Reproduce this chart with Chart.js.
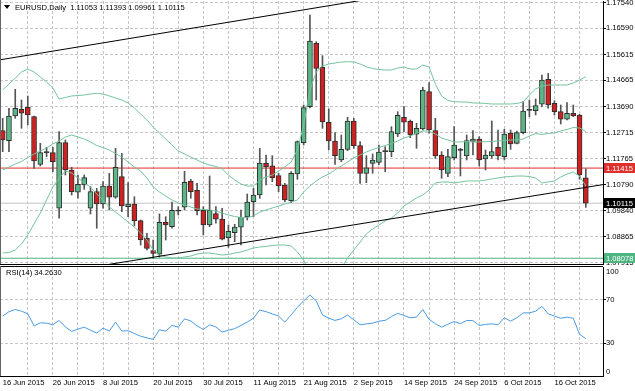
<!DOCTYPE html>
<html><head><meta charset="utf-8">
<script src="https://cdn.jsdelivr.net/npm/chart.js@4/dist/chart.umd.min.js"></script>
<style>
html,body{margin:0;padding:0;background:#fff;}
#wrap{position:relative;width:635px;height:391px;overflow:hidden;background:#fff;}
.pane{position:absolute;left:0;}
</style></head><body>
<div id="wrap">
<div class="pane" style="top:0;width:635px;height:266px"><canvas id="main" width="635" height="266"></canvas></div>
<div class="pane" style="top:266px;width:635px;height:125px"><canvas id="rsi" width="635" height="125"></canvas></div>
</div>
<script>
// ---------------- data ----------------
const symbol = 'EURUSD,Daily';
const dates = ['16 Jun 2015','17 Jun 2015','18 Jun 2015','19 Jun 2015','22 Jun 2015','23 Jun 2015','24 Jun 2015','25 Jun 2015','26 Jun 2015','29 Jun 2015','30 Jun 2015',
'1 Jul 2015','2 Jul 2015','3 Jul 2015','6 Jul 2015','7 Jul 2015','8 Jul 2015','9 Jul 2015','10 Jul 2015','13 Jul 2015','14 Jul 2015','15 Jul 2015','16 Jul 2015','17 Jul 2015','20 Jul 2015','21 Jul 2015','22 Jul 2015','23 Jul 2015','24 Jul 2015','27 Jul 2015','28 Jul 2015','29 Jul 2015','30 Jul 2015','31 Jul 2015',
'3 Aug 2015','4 Aug 2015','5 Aug 2015','6 Aug 2015','7 Aug 2015','10 Aug 2015','11 Aug 2015','12 Aug 2015','13 Aug 2015','14 Aug 2015','17 Aug 2015','18 Aug 2015','19 Aug 2015','20 Aug 2015','21 Aug 2015','24 Aug 2015','25 Aug 2015','26 Aug 2015','27 Aug 2015','28 Aug 2015','31 Aug 2015',
'1 Sep 2015','2 Sep 2015','3 Sep 2015','4 Sep 2015','7 Sep 2015','8 Sep 2015','9 Sep 2015','10 Sep 2015','11 Sep 2015','14 Sep 2015','15 Sep 2015','16 Sep 2015','17 Sep 2015','18 Sep 2015','21 Sep 2015','22 Sep 2015','23 Sep 2015','24 Sep 2015','25 Sep 2015','28 Sep 2015','29 Sep 2015','30 Sep 2015',
'1 Oct 2015','2 Oct 2015','5 Oct 2015','6 Oct 2015','7 Oct 2015','8 Oct 2015','9 Oct 2015','12 Oct 2015','13 Oct 2015','14 Oct 2015','15 Oct 2015','16 Oct 2015','19 Oct 2015','20 Oct 2015','21 Oct 2015','22 Oct 2015','23 Oct 2015'];

const open = [1.12799,1.12429,1.13343,1.13591,1.13665,1.13317,1.11555,1.11985,1.11985,1.09927,
1.12355,1.11344,1.10519,1.10789,1.09927,1.10541,1.10086,1.10752,1.10334,1.11096,
1.09986,1.10086,1.09468,1.08817,1.08358,1.0823,1.09409,1.09246,1.0983,1.09964,
1.10937,1.10593,1.09853,1.09309,1.09727,1.09531,1.08839,1.09024,1.09224,1.09605,
1.10171,1.10419,1.11592,1.11503,1.11133,1.10789,1.10208,1.11196,1.12355,1.13687,
1.16033,1.15145,1.1311,1.12418,1.11714,1.1211,1.13158,1.12244,1.11222,1.11592,
1.11629,1.12022,1.12022,1.12677,1.13295,1.13147,1.12666,1.12862,1.14242,1.12799,
1.11899,1.11222,1.11799,1.12096,1.11862,1.12406,1.12492,1.11751,1.11862,1.12184,
1.11837,1.12703,1.12332,1.12725,1.1355,1.13539,1.13776,1.14701,1.13813,1.13502,
1.13221,1.13443,1.1338,1.11053];
const high = [1.13258,1.13628,1.14331,1.13935,1.14083,1.1334,1.12332,1.12184,1.12184,1.12762,
1.12455,1.11444,1.11159,1.11159,1.10726,1.10667,1.10911,1.11222,1.12147,1.11962,
1.10874,1.10356,1.09494,1.09002,1.08754,1.0972,1.09616,1.1016,1.09986,1.11296,
1.11,1.10852,1.09986,1.11122,1.09986,1.09927,1.09309,1.09335,1.09864,1.10456,
1.10667,1.12147,1.11899,1.11874,1.11222,1.10852,1.11281,1.12418,1.1375,1.17081,
1.16093,1.15575,1.13602,1.12725,1.1264,1.13295,1.13258,1.12392,1.11874,1.11937,
1.1227,1.12207,1.12947,1.13502,1.13687,1.13195,1.13073,1.14405,1.14575,1.13258,
1.12022,1.12111,1.12947,1.12147,1.1264,1.12799,1.12577,1.12084,1.13158,1.12825,
1.12851,1.12825,1.12788,1.13872,1.13935,1.13972,1.1486,1.14923,1.13909,1.1375,
1.13835,1.1375,1.13406,1.11393];
const low = [1.12022,1.12022,1.13258,1.12888,1.1301,1.11407,1.11492,1.11837,1.11281,1.09557,
1.11159,1.10419,1.10297,1.1063,1.09716,1.09187,1.09927,1.09864,1.10297,1.09801,
1.09616,1.09272,1.08569,1.08383,1.08078,1.0812,1.08754,1.09187,1.09679,1.09864,
1.10297,1.09679,1.08939,1.09246,1.09372,1.08754,1.08483,1.08691,1.08569,1.09494,
1.09616,1.10297,1.10789,1.10911,1.10541,1.10171,1.10134,1.11,1.1227,1.13639,
1.13935,1.12888,1.12084,1.11555,1.11651,1.12059,1.12147,1.10852,1.10874,1.11222,
1.11529,1.11281,1.11837,1.12577,1.12762,1.1254,1.12147,1.12825,1.12703,1.11777,
1.11037,1.11096,1.11714,1.11122,1.11714,1.11899,1.11492,1.11344,1.11777,1.11714,
1.11714,1.1211,1.1231,1.12677,1.13317,1.1338,1.13687,1.13628,1.1338,1.13047,
1.13195,1.13317,1.11,1.09961];
const close = [1.12455,1.13343,1.13628,1.13443,1.1338,1.11677,1.11985,1.1201,1.11651,1.12355,
1.11344,1.10541,1.10815,1.11059,1.10541,1.10086,1.10752,1.10334,1.11444,1.10012,
1.10086,1.09468,1.08754,1.08446,1.08261,1.09409,1.09309,1.09853,1.0982,1.10889,
1.10541,1.09838,1.09309,1.09853,1.0952,1.0878,1.09076,1.09235,1.09594,1.1016,
1.10419,1.11603,1.11466,1.11059,1.10752,1.10234,1.11222,1.12392,1.1365,1.16119,
1.15108,1.13121,1.12418,1.11874,1.1211,1.13158,1.12244,1.11222,1.11429,1.11714,
1.1201,1.1203,1.12762,1.13369,1.1311,1.1264,1.12888,1.14305,1.12825,1.11862,
1.11344,1.11837,1.1227,1.12073,1.12429,1.12492,1.11714,1.11899,1.12022,1.11862,
1.12677,1.12307,1.12725,1.13528,1.1357,1.13724,1.14675,1.1375,1.13502,1.13221,
1.13443,1.13343,1.11159,1.10115];

const bbUpper = [1.14305,1.14527,1.14749,1.14971,1.15082,1.14971,1.14786,1.14601,1.14379,1.13972,
1.14028,1.14083,1.14102,1.1412,1.14157,1.14183,1.14157,1.14083,1.14009,1.13935,
1.13824,1.13639,1.13417,1.13195,1.12936,1.12714,1.12492,1.1227,1.12047,1.11937,
1.11825,1.11714,1.11603,1.11529,1.11474,1.11381,1.11159,1.10974,1.10826,1.10752,
1.10752,1.10974,1.11085,1.11159,1.11307,1.11455,1.1164,1.12084,1.1301,1.14305,
1.14971,1.15193,1.15267,1.15304,1.15341,1.15352,1.15341,1.15267,1.15167,1.15101,
1.15064,1.15045,1.15045,1.15119,1.15156,1.15082,1.15082,1.1523,1.15156,1.14527,
1.14083,1.13917,1.13872,1.13861,1.13861,1.13824,1.13824,1.13806,1.13787,1.13787,
1.13787,1.13787,1.13806,1.13861,1.1412,1.14342,1.14453,1.1449,1.1449,1.1449,
1.1449,1.14564,1.14675,1.14797];
const bbMiddle = [1.11344,1.11455,1.11566,1.11659,1.11807,1.11937,1.12047,1.12159,1.12307,1.12418,
1.12566,1.1264,1.12566,1.12492,1.12381,1.12251,1.12177,1.12084,1.11955,1.11825,
1.1164,1.11455,1.11307,1.11048,1.10715,1.1053,1.10382,1.10234,1.10123,1.10049,
1.09975,1.09901,1.09882,1.09864,1.09827,1.09753,1.09679,1.09623,1.09586,1.09586,
1.09642,1.0979,1.09864,1.09938,1.10012,1.10086,1.1016,1.10234,1.1053,1.10752,
1.10937,1.11085,1.11196,1.11344,1.11492,1.1164,1.11788,1.11899,1.1201,1.12103,
1.12177,1.12251,1.12325,1.12418,1.12529,1.12603,1.12714,1.12788,1.12788,1.12677,
1.12529,1.12455,1.12381,1.12381,1.12399,1.12381,1.12381,1.12392,1.12399,1.12418,
1.12436,1.12455,1.12455,1.12492,1.12603,1.12695,1.12658,1.12695,1.12714,1.12788,
1.12843,1.12917,1.12899,1.12769];
const bbLower = [1.08272,1.08291,1.08383,1.08606,1.08939,1.09346,1.09753,1.10234,1.10715,1.11048,
1.11307,1.11233,1.11048,1.10863,1.10715,1.10456,1.10234,1.09975,1.0979,1.09605,
1.0942,1.09235,1.09013,1.08754,1.08383,1.08198,1.08124,1.08087,1.08087,1.08124,
1.08161,1.08235,1.08272,1.08272,1.08235,1.08198,1.08217,1.08272,1.08309,1.08383,
1.08458,1.08495,1.08513,1.08551,1.08569,1.08569,1.08532,1.08309,1.08013,1.07458,
1.07088,1.06903,1.06977,1.07199,1.07717,1.08087,1.08383,1.0868,1.08976,1.09161,
1.09309,1.09457,1.09568,1.09753,1.10012,1.1016,1.10308,1.10419,1.10604,1.10863,
1.109,1.109,1.10863,1.109,1.10937,1.10937,1.10937,1.10974,1.11011,1.11048,
1.11085,1.11104,1.11122,1.11122,1.11104,1.11048,1.10863,1.109,1.10937,1.11085,
1.11196,1.1127,1.11122,1.10752];

const rsi = [55,59,61,59.5,57,46,48.8,48.5,47,51,
45,40.9,43,44.8,42,39.4,43.9,41.2,49.4,41.2,
41.5,39,36.5,35,33.6,42.4,41.2,46.4,44.8,52.4,
50.5,46,42.7,47,45,40.3,42,43.4,46.4,49.5,
53,60.6,59,57,55,49.4,56,63,69,74.3,
69,56,53,51,52.5,56,51.5,47,47.8,48.5,
50.3,51,54.5,57.5,55.5,53.4,54,61,52,48,
44.8,47.5,50,48,51,50.8,46.4,47.3,47.9,47,
53.4,50.3,53.4,57.9,57.9,59.5,63.9,57,55,53,
54,53,38.2,34.263];

const priceTicks = [1.07915,1.08865,1.0984,1.1079,1.11765,1.12715,1.1369,1.14665,1.15615,1.1659,1.1754];
const rsiLevels = [30, 70];
const rsiBounds = [0, 100];
const levelValues = [1.11415, 1.10115, 1.08078];      // red level, current bid, green level
const trendUpper = [[-1, 1.1540], [60, 1.1773]];       // [bar, price]
const trendLower = [[10, 1.0759], [97, 1.1085]];

// ---------------- styling ----------------
const FONT = "'Liberation Sans',Arial,sans-serif";
const FS = 7.6;
const gridColor = '#c6c6c6';
const bbColor = '#74c49c';
const bullFill = '#5cb688', bearFill = '#cc2222', candleEdge = '#2e2e2e', wickColor = '#555555';
const levelStyles = [{line:'#e0302c', box:'#e0302c'}, {line:'#c4c4c4', box:'#000000'}, {line:'#4cb582', box:'#4cb582'}];
const xMin = -0.43, xMax = 95.74;
const gridBars = []; for (let b = 4; b <= 92; b += 4) gridBars.push(b);
const last = close.length - 1;
Chart.defaults.font.family = FONT;

const pts = arr => arr.map((v, i) => ({x: i, y: v}));
const seg = arr => arr.map(p => ({x: p[0], y: p[1]}));
const lineDs = (data, color, order) => ({type:'line', data, borderColor:color, borderWidth:1, pointRadius:0, tension:0, order});

const mainDecor = {
  id: 'mainDecor',
  afterDraw(chart) {
    const {ctx, chartArea: a, scales: {y}} = chart;
    ctx.save();
    ctx.strokeStyle = '#666'; ctx.lineWidth = 1;
    ctx.beginPath(); ctx.moveTo(0.5, 0); ctx.lineTo(0.5, a.bottom); ctx.stroke();
    ctx.font = `${FS}px ${FONT}`; ctx.textBaseline = 'middle'; ctx.textAlign = 'left';
    levelValues.forEach((v, k) => {
      const py = Math.round(y.getPixelForValue(v));
      ctx.fillStyle = levelStyles[k].box;
      ctx.fillRect(a.right + 1, py - 5, chart.width - a.right - 1, 10);
      ctx.fillStyle = '#fff';
      ctx.fillText(v.toFixed(5), a.right + 3, py + 0.5);
    });
    ctx.fillStyle = '#000';
    ctx.beginPath(); ctx.moveTo(4, 5); ctx.lineTo(10, 5); ctx.lineTo(7, 9); ctx.closePath(); ctx.fill();
    ctx.fillText(symbol + '  ' + [open[last], high[last], low[last], close[last]].map(v => v.toFixed(5)).join(' '), 15, 8);
    ctx.restore();
  }
};

new Chart(document.getElementById('main'), {
  type: 'bar',
  data: { datasets: [
    lineDs(seg(trendUpper), '#000', 0),
    lineDs(seg(trendLower), '#000', 0),
    lineDs(pts(bbUpper), bbColor, 1),
    lineDs(pts(bbMiddle), bbColor, 1),
    lineDs(pts(bbLower), bbColor, 1),
    { type:'bar', data: open.map((o, i) => ({x: i, y: [o, close[i]]})),
      backgroundColor: open.map((o, i) => Math.abs(close[i] - o) < 0.0003 ? candleEdge : (close[i] >= o ? bullFill : bearFill)),
      borderColor: candleEdge, borderWidth: 1, borderSkipped: false, barThickness: 5, minBarLength: 1, grouped: false, order: 2 },
    { type:'bar', data: low.map((l, i) => ({x: i, y: [l, high[i]]})),
      backgroundColor: wickColor, borderWidth: 0, barThickness: 1, grouped: false, order: 3 },
    ...levelValues.map((v, k) => lineDs([{x: -1, y: v}, {x: 97, y: v}], levelStyles[k].line, 4))
  ]},
  options: {
    responsive: false, animation: false, events: [],
    layout: { padding: {top: 1, bottom: 2, left: 0, right: 0}, autoPadding: false },
    plugins: { legend: {display: false}, tooltip: {enabled: false} },
    scales: {
      x: { type: 'linear', min: xMin, max: xMax, offset: false,
        afterBuildTicks: s => { s.ticks = gridBars.map(v => ({value: v})); },
        ticks: { display: false },
        grid: { offset: false, color: gridColor, drawTicks: false },
        border: { display: true, color: '#000', dash: [3, 2] },
        afterFit: s => { s.height = 0; s.paddingLeft = 0; s.paddingRight = 0; } },
      y: { position: 'right', min: 1.07865, max: 1.17599, beginAtZero: false,
        afterBuildTicks: s => { s.ticks = priceTicks.map(v => ({value: v})); },
        ticks: { callback: v => Number(v).toFixed(5), font: {family: FONT, size: FS}, color: '#000', padding: 0, autoSkip: false },
        grid: { color: gridColor, drawTicks: true, tickLength: 3, tickColor: '#000', tickBorderDash: [] },
        border: { display: true, color: '#000', dash: [3, 2] },
        afterFit: s => { s.width = 32; s.paddingTop = 0; s.paddingBottom = 0; } }
    }
  },
  plugins: [mainDecor]
});

const rsiDecor = {
  id: 'rsiDecor',
  afterDraw(chart) {
    const {ctx, chartArea: a, scales: {y}} = chart;
    ctx.save();
    ctx.strokeStyle = '#000'; ctx.lineWidth = 1;
    ctx.beginPath(); ctx.moveTo(0, 0.5); ctx.lineTo(a.right, 0.5); ctx.stroke();
    ctx.strokeStyle = '#666';
    ctx.beginPath(); ctx.moveTo(0.5, 0); ctx.lineTo(0.5, a.bottom); ctx.stroke();
    ctx.font = `${FS}px ${FONT}`; ctx.fillStyle = '#000'; ctx.textBaseline = 'middle'; ctx.textAlign = 'left';
    ctx.fillText('RSI(14) ' + rsi[last].toFixed(4), 6, 7);
    ctx.fillText(String(rsiBounds[1]), a.right + 3, y.getPixelForValue(rsiBounds[1]) + 4.5);
    ctx.fillText(String(rsiBounds[0]), a.right + 3, y.getPixelForValue(rsiBounds[0]) - 4.5);
    ctx.restore();
  }
};

new Chart(document.getElementById('rsi'), {
  type: 'line',
  data: { datasets: [ { data: pts(rsi), borderColor: '#4a9be0', borderWidth: 1, pointRadius: 0, tension: 0 } ] },
  options: {
    responsive: false, animation: false, events: [],
    layout: { padding: {top: 1, bottom: 0, left: 0, right: 0}, autoPadding: false },
    plugins: { legend: {display: false}, tooltip: {enabled: false} },
    scales: {
      x: { type: 'linear', min: xMin, max: xMax,
        afterBuildTicks: s => { s.ticks = [0].concat(gridBars).map(v => ({value: v})); },
        ticks: { callback: v => (v % 8 === 0 ? dates[v] : ''), align: 'start', autoSkip: false, maxRotation: 0, padding: 2,
                 font: {family: FONT, size: FS}, color: '#000' },
        grid: { color: c => (c.tick && c.tick.value === 0 ? 'rgba(0,0,0,0)' : gridColor), drawTicks: false },
        border: { display: true, color: '#000', dash: [3, 2] },
        afterFit: s => { s.height = 15; s.paddingLeft = 0; s.paddingRight = 0; } },
      y: { position: 'right', min: rsiBounds[0], max: rsiBounds[1],
        afterBuildTicks: s => { s.ticks = rsiLevels.map(v => ({value: v})); },
        ticks: { font: {family: FONT, size: FS}, color: '#000', padding: 0 },
        grid: { color: gridColor, drawTicks: true, tickLength: 3, tickColor: '#000', tickBorderDash: [] },
        border: { display: true, color: '#000', dash: [3, 2] },
        afterFit: s => { s.width = 32; s.paddingTop = 0; s.paddingBottom = 0; } }
    }
  },
  plugins: [rsiDecor]
});
</script>
</body></html>
